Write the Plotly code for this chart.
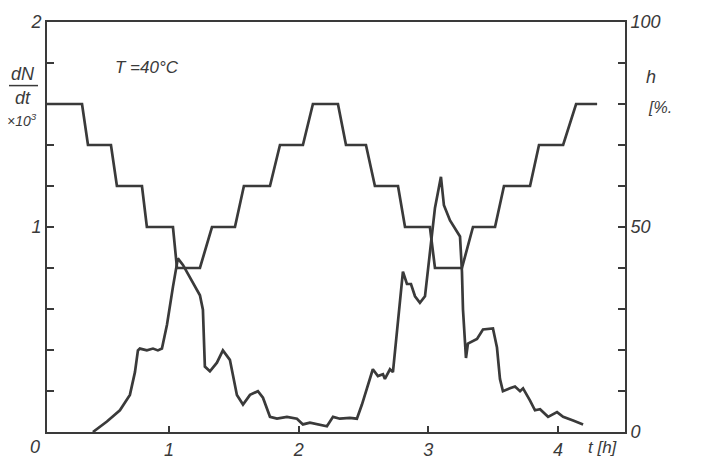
import plotly.graph_objects as go

# dN/dt (x10^3) versus time t [h]
t_rate = [0.414, 0.522, 0.622, 0.699, 0.738, 0.761, 0.776, 0.830, 0.877, 0.915, 0.946,
          0.985, 1.031, 1.069, 1.108, 1.177, 1.239, 1.262, 1.277, 1.316, 1.370, 1.416,
          1.470, 1.524, 1.571, 1.625, 1.686, 1.725, 1.779, 1.833, 1.910, 1.987, 2.033,
          2.087, 2.149, 2.218, 2.265, 2.318, 2.395, 2.449, 2.488, 2.534, 2.572, 2.611,
          2.650, 2.665, 2.704, 2.727, 2.766, 2.804, 2.835, 2.866, 2.897, 2.935, 2.974,
          3.012, 3.051, 3.097, 3.120, 3.167, 3.244, 3.259, 3.267, 3.290, 3.305, 3.375,
          3.421, 3.498, 3.529, 3.552, 3.575, 3.629, 3.668, 3.707, 3.730, 3.784, 3.822,
          3.861, 3.923, 3.992, 4.039, 4.116, 4.193]
rate = [0.000, 0.051, 0.106, 0.181, 0.292, 0.398, 0.407, 0.398, 0.407, 0.398, 0.407,
        0.523, 0.708, 0.847, 0.815, 0.736, 0.667, 0.597, 0.319, 0.296, 0.338, 0.398,
        0.352, 0.181, 0.134, 0.181, 0.199, 0.167, 0.074, 0.065, 0.074, 0.065, 0.037,
        0.046, 0.037, 0.028, 0.074, 0.065, 0.069, 0.065, 0.134, 0.227, 0.306, 0.273,
        0.282, 0.259, 0.306, 0.292, 0.537, 0.782, 0.722, 0.722, 0.662, 0.630, 0.662,
        0.861, 1.093, 1.245, 1.106, 1.032, 0.954, 0.782, 0.597, 0.361, 0.431, 0.454,
        0.500, 0.505, 0.412, 0.259, 0.199, 0.213, 0.222, 0.199, 0.213, 0.153, 0.106,
        0.111, 0.074, 0.097, 0.074, 0.056, 0.037]

# humidity h [%] versus time t [h]
t_hum = [0.06, 0.330, 0.376, 0.553, 0.599, 0.792, 0.830, 1.031, 1.062, 1.239, 1.332,
         1.509, 1.578, 1.779, 1.856, 2.033, 2.110, 2.303, 2.365, 2.519, 2.588, 2.766,
         2.820, 3.012, 3.051, 3.259, 3.344, 3.514, 3.583, 3.784, 3.853, 4.039, 4.139, 4.301]
hum = [80, 80, 70, 70, 60, 60, 50, 50, 40, 40, 50,
       50, 60, 60, 70, 70, 80, 80, 70, 70, 60, 60,
       50, 50, 40, 40, 50, 50, 60, 60, 70, 70, 80, 80]

x_ticks = [1, 2, 3, 4]
y_left_ticks = [1, 2]
y_right_ticks = [0, 50, 100]

INK = "#3a3a3a"
FONT = "Liberation Sans"

fig = go.Figure()
fig.add_trace(go.Scatter(x=t_rate, y=rate, mode="lines",
                         line=dict(color=INK, width=2.7), yaxis="y", showlegend=False))
fig.add_trace(go.Scatter(x=t_hum, y=hum, mode="lines",
                         line=dict(color=INK, width=2.7), yaxis="y2", showlegend=False))

tf = dict(family=FONT, size=18, color=INK, style="italic")
minor_tick = dict(ticks="inside", ticklen=7, tickwidth=1.5, tickcolor=INK, showgrid=False)

fig.update_layout(
    width=716, height=472,
    margin=dict(l=47, r=91, t=14, b=26),
    paper_bgcolor="white", plot_bgcolor="white",
    xaxis=dict(range=[0.06, 4.516], tickvals=x_ticks, ticktext=[str(v) for v in x_ticks],
               ticks="inside", ticklen=6, tickwidth=1.5, tickcolor=INK,
               showline=True, linecolor=INK, linewidth=2, mirror=True,
               showgrid=False, zeroline=False, tickfont=tf),
    yaxis=dict(range=[0, 2], tickvals=y_left_ticks, ticktext=[str(v) for v in y_left_ticks],
               ticks="inside", ticklen=7, tickwidth=1.5, tickcolor=INK,
               minor=dict(tick0=0, dtick=0.2, **minor_tick),
               showline=True, linecolor=INK, linewidth=2,
               showgrid=False, zeroline=False, tickfont=tf),
    yaxis2=dict(range=[0, 100], overlaying="y", side="right",
                tickvals=y_right_ticks, ticktext=[str(v) for v in y_right_ticks],
                ticks="inside", ticklen=7, tickwidth=1.5, tickcolor=INK,
                minor=dict(tick0=0, dtick=10, **minor_tick),
                showline=True, linecolor=INK, linewidth=2,
                showgrid=False, zeroline=False, tickfont=tf),
)

def px_x(p):
    return (p - 47) / 578

def px_y(p):
    return (446 - p) / 432

def note(text, x, y, size=18):
    fig.add_annotation(text=text, xref="paper", yref="paper", x=px_x(x), y=px_y(y),
                       showarrow=False, xanchor="center", yanchor="middle",
                       font=dict(family=FONT, size=size, color=INK, style="italic"))

note("dN", 23, 69, 18)
note("dt", 23, 94, 18)
fig.add_shape(type="line", xref="paper", yref="paper",
              x0=px_x(9), x1=px_x(38), y0=px_y(81), y1=px_y(81),
              line=dict(color=INK, width=1.5))
note("×10<sup>3</sup>", 22, 117, 14)
note("T =40°C", 147, 62, 17)
note("0", 35, 462, 18)
note("t [h]", 603, 462, 17)
note("h", 651, 72, 18)
note("[%.", 660, 104, 16)

fig.write_html("out.html")
